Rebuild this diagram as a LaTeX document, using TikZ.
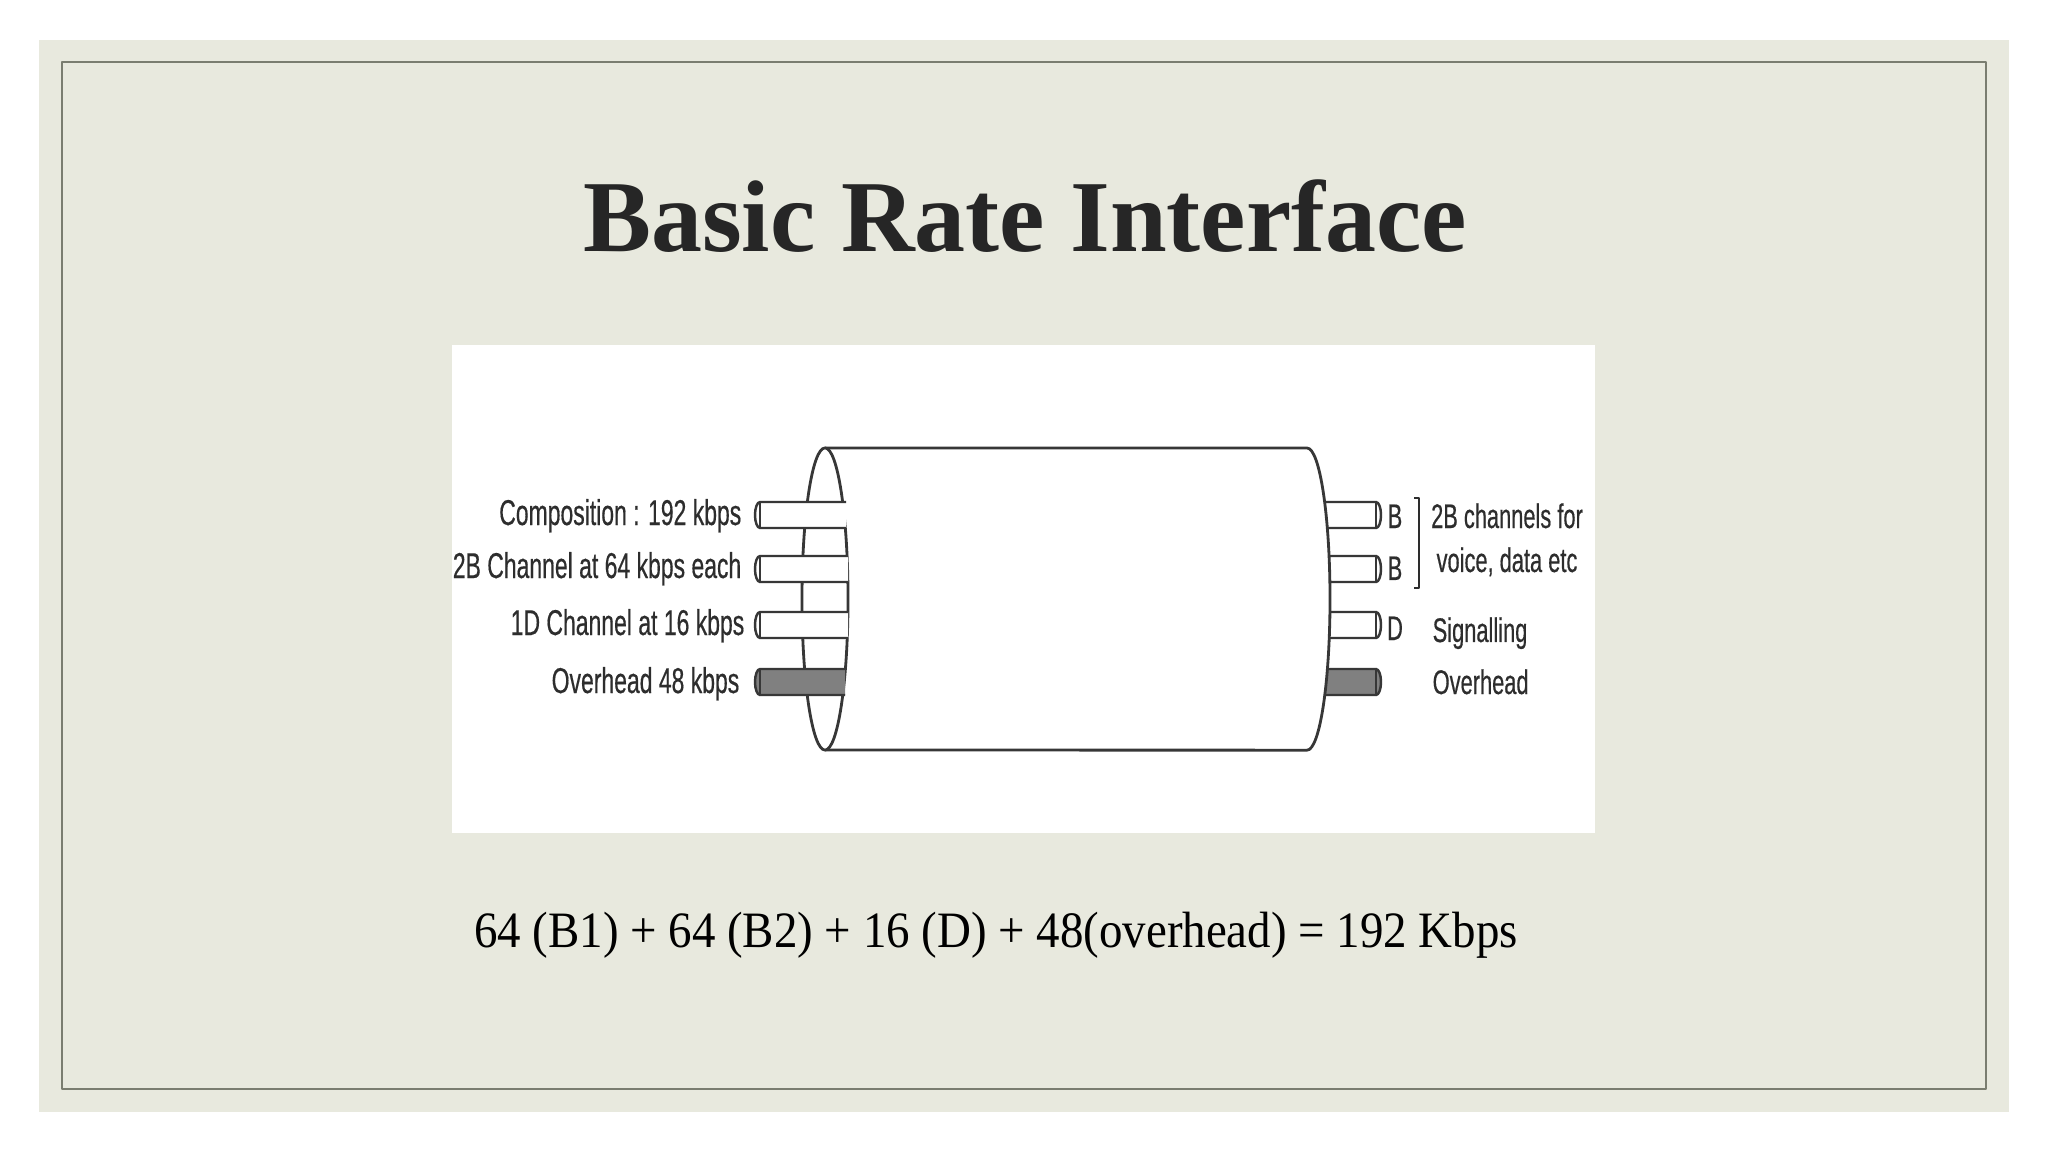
\documentclass[tikz,border=0pt]{standalone}
\usepackage{fontspec}
\setmainfont{Liberation Serif}
\newfontfamily\labelfont[FakeStretch=0.64, FakeBold=0.4]{Liberation Sans}
\newfontfamily\sumfont[FakeStretch=0.92]{Liberation Serif}
\definecolor{panel}{RGB}{232,233,222}
\definecolor{frame}{RGB}{122,125,112}
\definecolor{ink}{RGB}{38,38,38}
\definecolor{wire}{RGB}{55,55,55}
\definecolor{labelgray}{RGB}{45,45,45}

\begin{document}
\begin{tikzpicture}[x=0.01cm, y=-0.01cm, line join=round,
    leftlabel/.style={anchor=base east, labelgray, inner sep=0pt,
      font=\labelfont\fontsize{10.2}{12}\selectfont},
    rightlabel/.style={anchor=base west, labelgray, inner sep=0pt,
      font=\labelfont\fontsize{9.7}{12}\selectfont}]
    \useasboundingbox (0,0) rectangle (2048,1152);

    % slide
    \fill[white] (0,0) rectangle (2048,1152);
    \fill[panel] (39,40) rectangle (2009,1112);
    \draw[frame, line width=0.6pt] (62,62) rectangle (1986,1089);
    \fill[white] (452,345) rectangle (1595,833);

    % title
    \node[anchor=base, ink, font=\bfseries\fontsize{29}{34}\selectfont]
      (title) at (1025,252) {Basic Rate Interface};

    % wires on the right (behind the cable)
    \draw[wire, line width=0.7pt, fill=white] (1300,502) -- (1376,502)
      arc[start angle=90, end angle=-90, x radius=0.05cm, y radius=0.13cm] -- (1300,528);
    \draw[wire, line width=0.7pt, fill=white] (1300,556) -- (1376,556)
      arc[start angle=90, end angle=-90, x radius=0.05cm, y radius=0.13cm] -- (1300,582);
    \draw[wire, line width=0.7pt, fill=white] (1300,612) -- (1376,612)
      arc[start angle=90, end angle=-90, x radius=0.05cm, y radius=0.13cm] -- (1300,638);
    \draw[wire, line width=0.7pt, fill=black!50] (1300,669) -- (1376,669)
      arc[start angle=90, end angle=-90, x radius=0.05cm, y radius=0.13cm] -- (1300,695);
    \draw[wire, line width=0.5pt] (1376,502) -- (1376,528);
    \draw[wire, line width=0.5pt] (1376,556) -- (1376,582);
    \draw[wire, line width=0.5pt] (1376,612) -- (1376,638);
    \draw[wire, line width=0.5pt] (1376,669) -- (1376,695);

    % cable
    \draw[wire, line width=0.8pt, fill=white] (825,448) -- (1307,448)
      arc[start angle=90, end angle=-90, x radius=0.23cm, y radius=1.51cm] -- (825,750);
    \draw[wire, line width=0.8pt, fill=white] (825,599)
      ellipse[x radius=0.23cm, y radius=1.51cm];

    % wires on the left
    \draw[wire, line width=0.7pt, fill=white] (846,502) -- (760,502)
      arc[start angle=90, end angle=270, x radius=0.05cm, y radius=0.13cm] -- (846,528);
    \draw[wire, line width=0.7pt, fill=white] (848,556) -- (760,556)
      arc[start angle=90, end angle=270, x radius=0.05cm, y radius=0.13cm] -- (848,582);
    \draw[wire, line width=0.7pt, fill=white] (848,612) -- (760,612)
      arc[start angle=90, end angle=270, x radius=0.05cm, y radius=0.13cm] -- (848,638);
    \draw[wire, line width=0.7pt, fill=black!50] (845,669) -- (760,669)
      arc[start angle=90, end angle=270, x radius=0.05cm, y radius=0.13cm] -- (845,695);
    \draw[wire, line width=0.5pt] (760,502) -- (760,528);
    \draw[wire, line width=0.5pt] (760,556) -- (760,582);
    \draw[wire, line width=0.5pt] (760,612) -- (760,638);
    \draw[wire, line width=0.5pt] (760,669) -- (760,695);

    % labels on the left
    \node[leftlabel] (comp) at (742,525) {Composition : 192 kbps};
    \node[leftlabel] (bchan) at (742,578) {2B Channel at 64 kbps each};
    \node[leftlabel] (dchan) at (745,635) {1D Channel at 16 kbps};
    \node[leftlabel] (ovleft) at (740,693) {Overhead 48 kbps};

    % labels on the right
    \node[rightlabel, anchor=base] (bone) at (1395,528) {B};
    \node[rightlabel, anchor=base] (btwo) at (1395,580) {B};
    \node[rightlabel, anchor=base] (dsig) at (1395,640) {D};
    \draw[labelgray, line width=0.6pt] (1414,498) -- (1419,498) -- (1419,588) -- (1414,588);
    \node[rightlabel, anchor=base] (voiceone) at (1507,528) {2B channels for};
    \node[rightlabel, anchor=base] (voicetwo) at (1507,572) {voice, data etc};
    \node[rightlabel] (signal) at (1432,642) {Signalling};
    \node[rightlabel] (ovright) at (1432,694) {Overhead};

    % sum
    \node[anchor=base, black, font=\sumfont\fontsize{14.5}{17}\selectfont]
      (total) at (996,947) {64 (B1) + 64 (B2) + 16 (D) + 48(overhead) = 192 Kbps};
\end{tikzpicture}
\end{document}
